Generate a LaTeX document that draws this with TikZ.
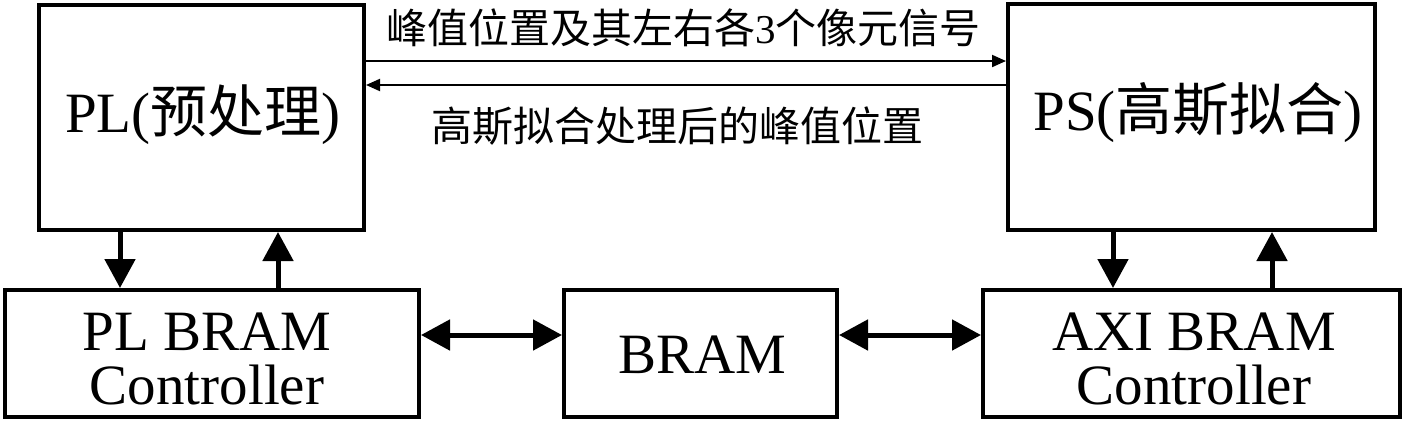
\documentclass[tikz,border=0pt]{standalone}
\usepackage{fontspec}
\setmainfont{Liberation Serif}
\newfontfamily\cjk{Noto Sans CJK SC}
\usetikzlibrary{arrows.meta}
\begin{document}
\begin{tikzpicture}[x=1pt,y=-1pt,
  blk/.style={draw, line width=4pt, inner sep=0pt},
  bigtxt/.style={font=\fontsize{57}{54}\selectfont, inner sep=0pt},
  lbltxt/.style={font=\fontsize{41}{41}\selectfont, inner sep=0pt},
  fat/.style={line width=5pt, -{Triangle[width=30pt,length=29pt]}},
  fatboth/.style={line width=5pt, {Triangle[width=30pt,length=29pt]}-{Triangle[width=30pt,length=29pt]}},
  slim/.style={line width=2pt, -{Triangle[width=12pt,length=14pt]}},
]
\useasboundingbox (0,0) rectangle (1404,424);
% boxes
\node[blk, minimum width=325pt, minimum height=225pt] (PL) at (201.5,117.5) {};
\node[blk, minimum width=367pt, minimum height=226pt] (PS) at (1191.5,117) {};
\node[blk, minimum width=414pt, minimum height=127pt] (PLB) at (212,353.5) {};
\node[blk, minimum width=273pt, minimum height=127pt] (BR) at (700.5,353.5) {};
\node[blk, minimum width=417pt, minimum height=127pt] (AXI) at (1191.5,353.5) {};
% box texts
\node[bigtxt, anchor=base] (PLt) at (203,132) {PL({\cjk 预处理})};
\node[bigtxt, anchor=base] (PSt) at (1198,130) {PS({\cjk 高斯拟合})};
\node[bigtxt, align=center] (PLBt) at (207,359) {PL BRAM\\Controller};
\node[bigtxt, anchor=base] (BRt) at (702,373) {BRAM};
\node[bigtxt, align=center] (AXIt) at (1194,359) {AXI BRAM\\Controller};
% helper coordinates
\coordinate (ya) at (0,61);
\coordinate (yb) at (0,85);
\coordinate (yh) at (0,335);
\coordinate (x1) at (120,0);
\coordinate (x2) at (278,0);
\coordinate (x3) at (1113,0);
\coordinate (x4) at (1272,0);
% connectors
\draw[fat] (PL.south -| x1) -- (PLB.north -| x1);
\draw[fat] (PLB.north -| x2) -- (PL.south -| x2);
\draw[fat] (PS.south -| x3) -- (AXI.north -| x3);
\draw[fat] (AXI.north -| x4) -- (PS.south -| x4);
\draw[fatboth] (PLB.east |- yh) -- (BR.west |- yh);
\draw[fatboth] (BR.east |- yh) -- (AXI.west |- yh);
\draw[slim] (PL.east |- ya) -- (PS.west |- ya);
\draw[slim] (PS.west |- yb) -- (PL.east |- yb);
% labels
\node[lbltxt] (t1) at (683.5,28) {{\cjk 峰值位置及其左右各}3{\cjk 个像元信号}};
\node[lbltxt] (t2) at (677,126.5) {{\cjk 高斯拟合处理后的峰值位置}};
\end{tikzpicture}
\end{document}
